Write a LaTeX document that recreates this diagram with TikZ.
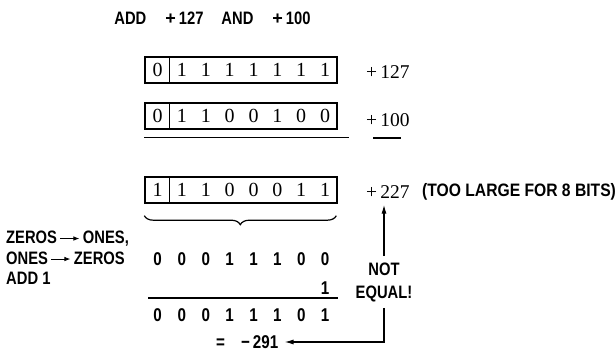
\documentclass[tikz,border=0pt]{standalone}
\usepackage{fontspec}
\setmainfont{Liberation Serif}
\newfontfamily\cnd[FakeStretch=0.82]{Liberation Sans}
\newfontfamily\cndw[FakeStretch=0.87]{Liberation Sans}
\newfontfamily\plainsans{Liberation Sans}
\usetikzlibrary{arrows.meta,decorations.pathreplacing}
\newcommand{\smarrow}{\tikz[baseline=-0.55ex]\draw[line width=0.9pt,-{Latex[length=6pt,width=4.5pt]}] (0pt,0pt) -- (19pt,0pt);}
\begin{document}
\begin{tikzpicture}[x=1pt,y=-1pt,
  regbox/.style={draw, line width=1.4pt, minimum width=192pt, minimum height=26pt, inner sep=0pt},
  bit/.style={font=\fontsize{20}{20}\selectfont, inner sep=0pt},
  rowdig/.style={font=\cnd\bfseries\fontsize{18.5}{18.5}\selectfont, inner sep=0pt},
  lab/.style={font=\fontsize{19.5}{19.5}\selectfont, inner sep=0pt, anchor=west},
  sanslab/.style={font=\cnd\bfseries\fontsize{18}{18}\selectfont, inner sep=0pt},
  rulel/.style={line width=1.2pt},
  arr/.style={line width=1.2pt, -{Latex[length=9pt,width=5pt]}}]
\useasboundingbox (0,0) rectangle (616,352);

% title
\node[sanslab] (title) at (212.5,18) {ADD\hspace{19pt}{\plainsans\bfseries +}\,127\hspace{18pt}AND\hspace{19pt}{\plainsans\bfseries +}\,100};

% box 1
\node[regbox] (b1) at (241,70) {};
\draw[line width=1.2pt] (b1.north west) ++(25,0) coordinate (d1t) -- ++(0,26) coordinate (d1b);
\foreach \d [count=\i] in {0,1,1,1,1,1,1,1}{
  \pgfmathsetmacro\xx{\i==1 ? 157.5 : 170+(\i-1.5)*23.86}
  \node[bit] (b1d\i) at (\xx,70) {\d};
}
\node[lab] (p127) at (366,72) {+\,127};

% box 2
\node[regbox] (b2) at (241,116) {};
\draw[line width=1.2pt] (b2.north west) ++(25,0) coordinate (d2t) -- ++(0,26) coordinate (d2b);
\foreach \d [count=\i] in {0,1,1,0,0,1,0,0}{
  \pgfmathsetmacro\xx{\i==1 ? 157.5 : 170+(\i-1.5)*23.86}
  \node[bit] (b2d\i) at (\xx,116) {\d};
}
\node[lab] (p100) at (366,120) {+\,100};
\draw[rulel] (b2.south west) ++(0,8) coordinate (u1a) -- ++(205,0) coordinate (u1b);
\draw[rulel] (373,138) coordinate (u2a) -- (401,138) coordinate (u2b);

% box 3
\node[regbox] (b3) at (241,190) {};
\draw[line width=1.2pt] (b3.north west) ++(25,0) coordinate (d3t) -- ++(0,26) coordinate (d3b);
\foreach \d [count=\i] in {1,1,1,0,0,0,1,1}{
  \pgfmathsetmacro\xx{\i==1 ? 157.5 : 170+(\i-1.5)*23.86}
  \node[bit] (b3d\i) at (\xx,190) {\d};
}
\node[lab] (p227) at (366,192) {+\,227};
\node[sanslab, anchor=west, font=\cndw\bfseries\fontsize{18}{18}\selectfont] (large) at (422,192) {(TOO LARGE FOR 8 BITS)};

% brace
\draw[line width=1.2pt, decorate, decoration={brace, amplitude=9pt, mirror}]
  (b3.south west) ++(0,12) coordinate (brl) -- ++(192,0) coordinate (brr);

% left rule text
\node[sanslab, anchor=north west, align=left, font=\cnd\bfseries\fontsize{18}{20.5}\selectfont]
  (rule) at (6,231) {ZEROS\,\smarrow\,ONES,\\ONES\,\smarrow\,ZEROS\\ADD 1};

% rows
\foreach \d [count=\i] in {0,0,0,1,1,1,0,0}{
  \pgfmathsetmacro\xx{\i==1 ? 157.5 : 170+(\i-1.5)*23.86}
  \node[rowdig] (r1d\i) at (\xx,259) {\d};
}
\node[rowdig] (one) at (325.1,288) {1};
\draw[rulel] (148,298) coordinate (l3a) -- (338,298) coordinate (l3b);
\foreach \d [count=\i] in {0,0,0,1,1,1,0,1}{
  \pgfmathsetmacro\xx{\i==1 ? 157.5 : 170+(\i-1.5)*23.86}
  \node[rowdig] (r2d\i) at (\xx,315) {\d};
}
\node[rowdig, anchor=west] (eq) at (216,342) {=\hspace{16pt}−\,291};

% not equal
\node[sanslab, align=center, font=\cnd\bfseries\fontsize{18}{23}\selectfont, inner sep=6pt] (neq) at (384,282) {NOT\\EQUAL!};
\draw[arr, shorten >=6pt] (neq.north) -- (neq.north |- p227.south);
\draw[arr, shorten >=6pt] (neq.south) |- (eq.east);
\end{tikzpicture}
\end{document}
